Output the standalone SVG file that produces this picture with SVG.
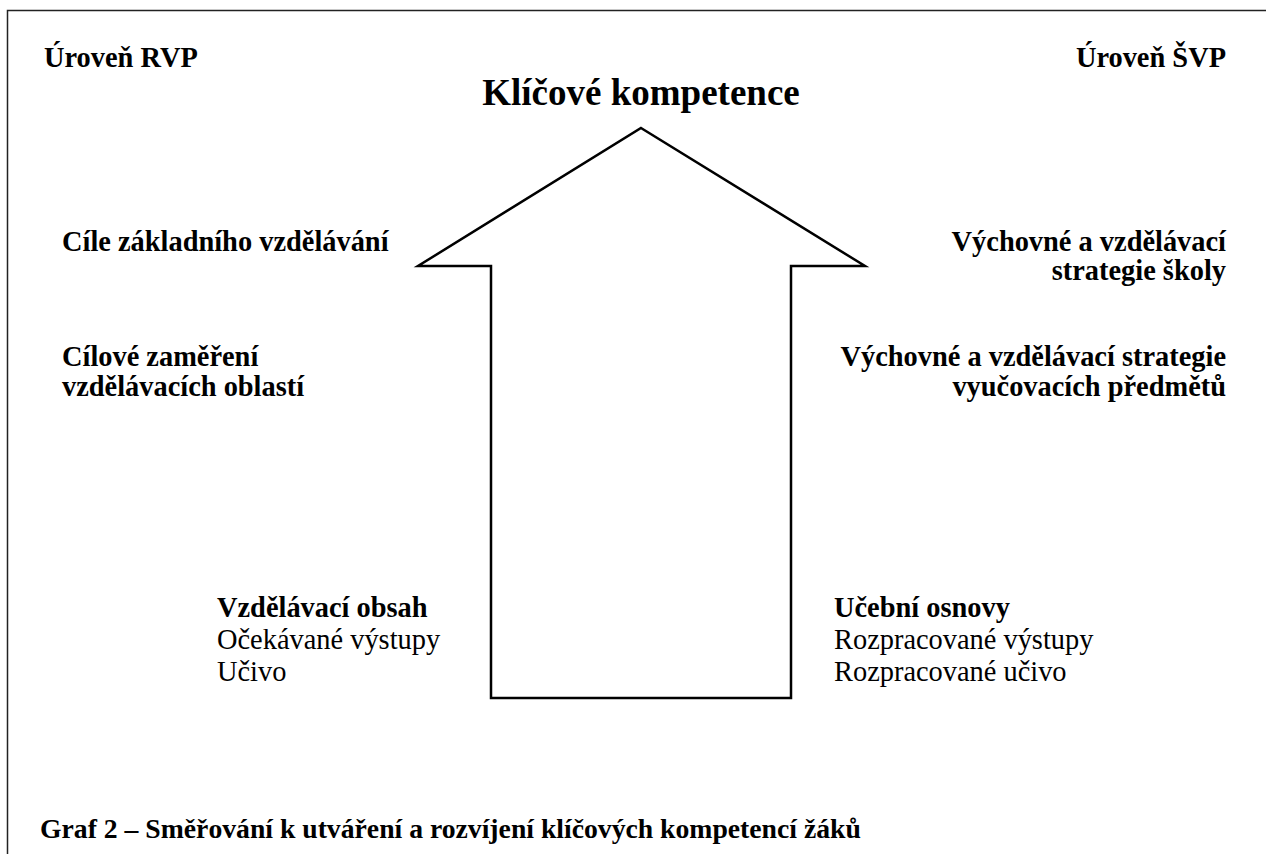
<svg xmlns="http://www.w3.org/2000/svg" width="1266" height="854" viewBox="0 0 1266 854">
<style>
  text { font-family: "Liberation Serif", "Times New Roman", serif; font-size: 28.4px; fill: #000; }
  .b { font-weight: bold; }
  .r { text-anchor: end; }
  .title { font-size: 37px; font-weight: bold; text-anchor: middle; }
  .cap { font-size: 27.7px; font-weight: bold; }
  .frame { fill: none; stroke: #222; stroke-width: 1.5; }
  .arrow { fill: #fff; stroke: #000; stroke-width: 2.5; stroke-linejoin: miter; }
</style>
<rect width="1266" height="854" fill="#fff"/>
<path class="frame" d="M7.5,860 V10.5 H1270"/>
<g id="connectors">
  <polygon id="arrow" class="arrow" points="641,128 865,266 791,266 791,698 491,698 491,266 418,266"/>
</g>
<g id="node-title"><text class="title" x="641" y="105">Klíčové kompetence</text></g>
<g id="node-rvp"><text class="b" x="44" y="67">Úroveň RVP</text></g>
<g id="node-svp"><text class="b r" x="1226" y="67">Úroveň ŠVP</text></g>
<g id="node-cile"><text class="b" x="62" y="251">Cíle základního vzdělávání</text></g>
<g id="node-strategie-skoly">
  <text class="b r" x="1226" y="251">Výchovné a vzdělávací</text>
  <text class="b r" x="1226" y="280">strategie školy</text>
</g>
<g id="node-cilove">
  <text class="b" x="62" y="366">Cílové zaměření</text>
  <text class="b" x="62" y="396">vzdělávacích oblastí</text>
</g>
<g id="node-strategie-predmetu">
  <text class="b r" x="1226" y="366">Výchovné a vzdělávací strategie</text>
  <text class="b r" x="1226" y="396">vyučovacích předmětů</text>
</g>
<g id="node-obsah">
  <text class="b" x="217" y="617">Vzdělávací obsah</text>
  <text x="217" y="649">Očekávané výstupy</text>
  <text x="217" y="681">Učivo</text>
</g>
<g id="node-osnovy">
  <text class="b" x="834" y="617">Učební osnovy</text>
  <text x="834" y="649">Rozpracované výstupy</text>
  <text x="834" y="681">Rozpracované učivo</text>
</g>
<g id="caption"><text class="cap" x="40" y="838">Graf 2 – Směřování k utváření a rozvíjení klíčových kompetencí žáků</text></g>
</svg>
